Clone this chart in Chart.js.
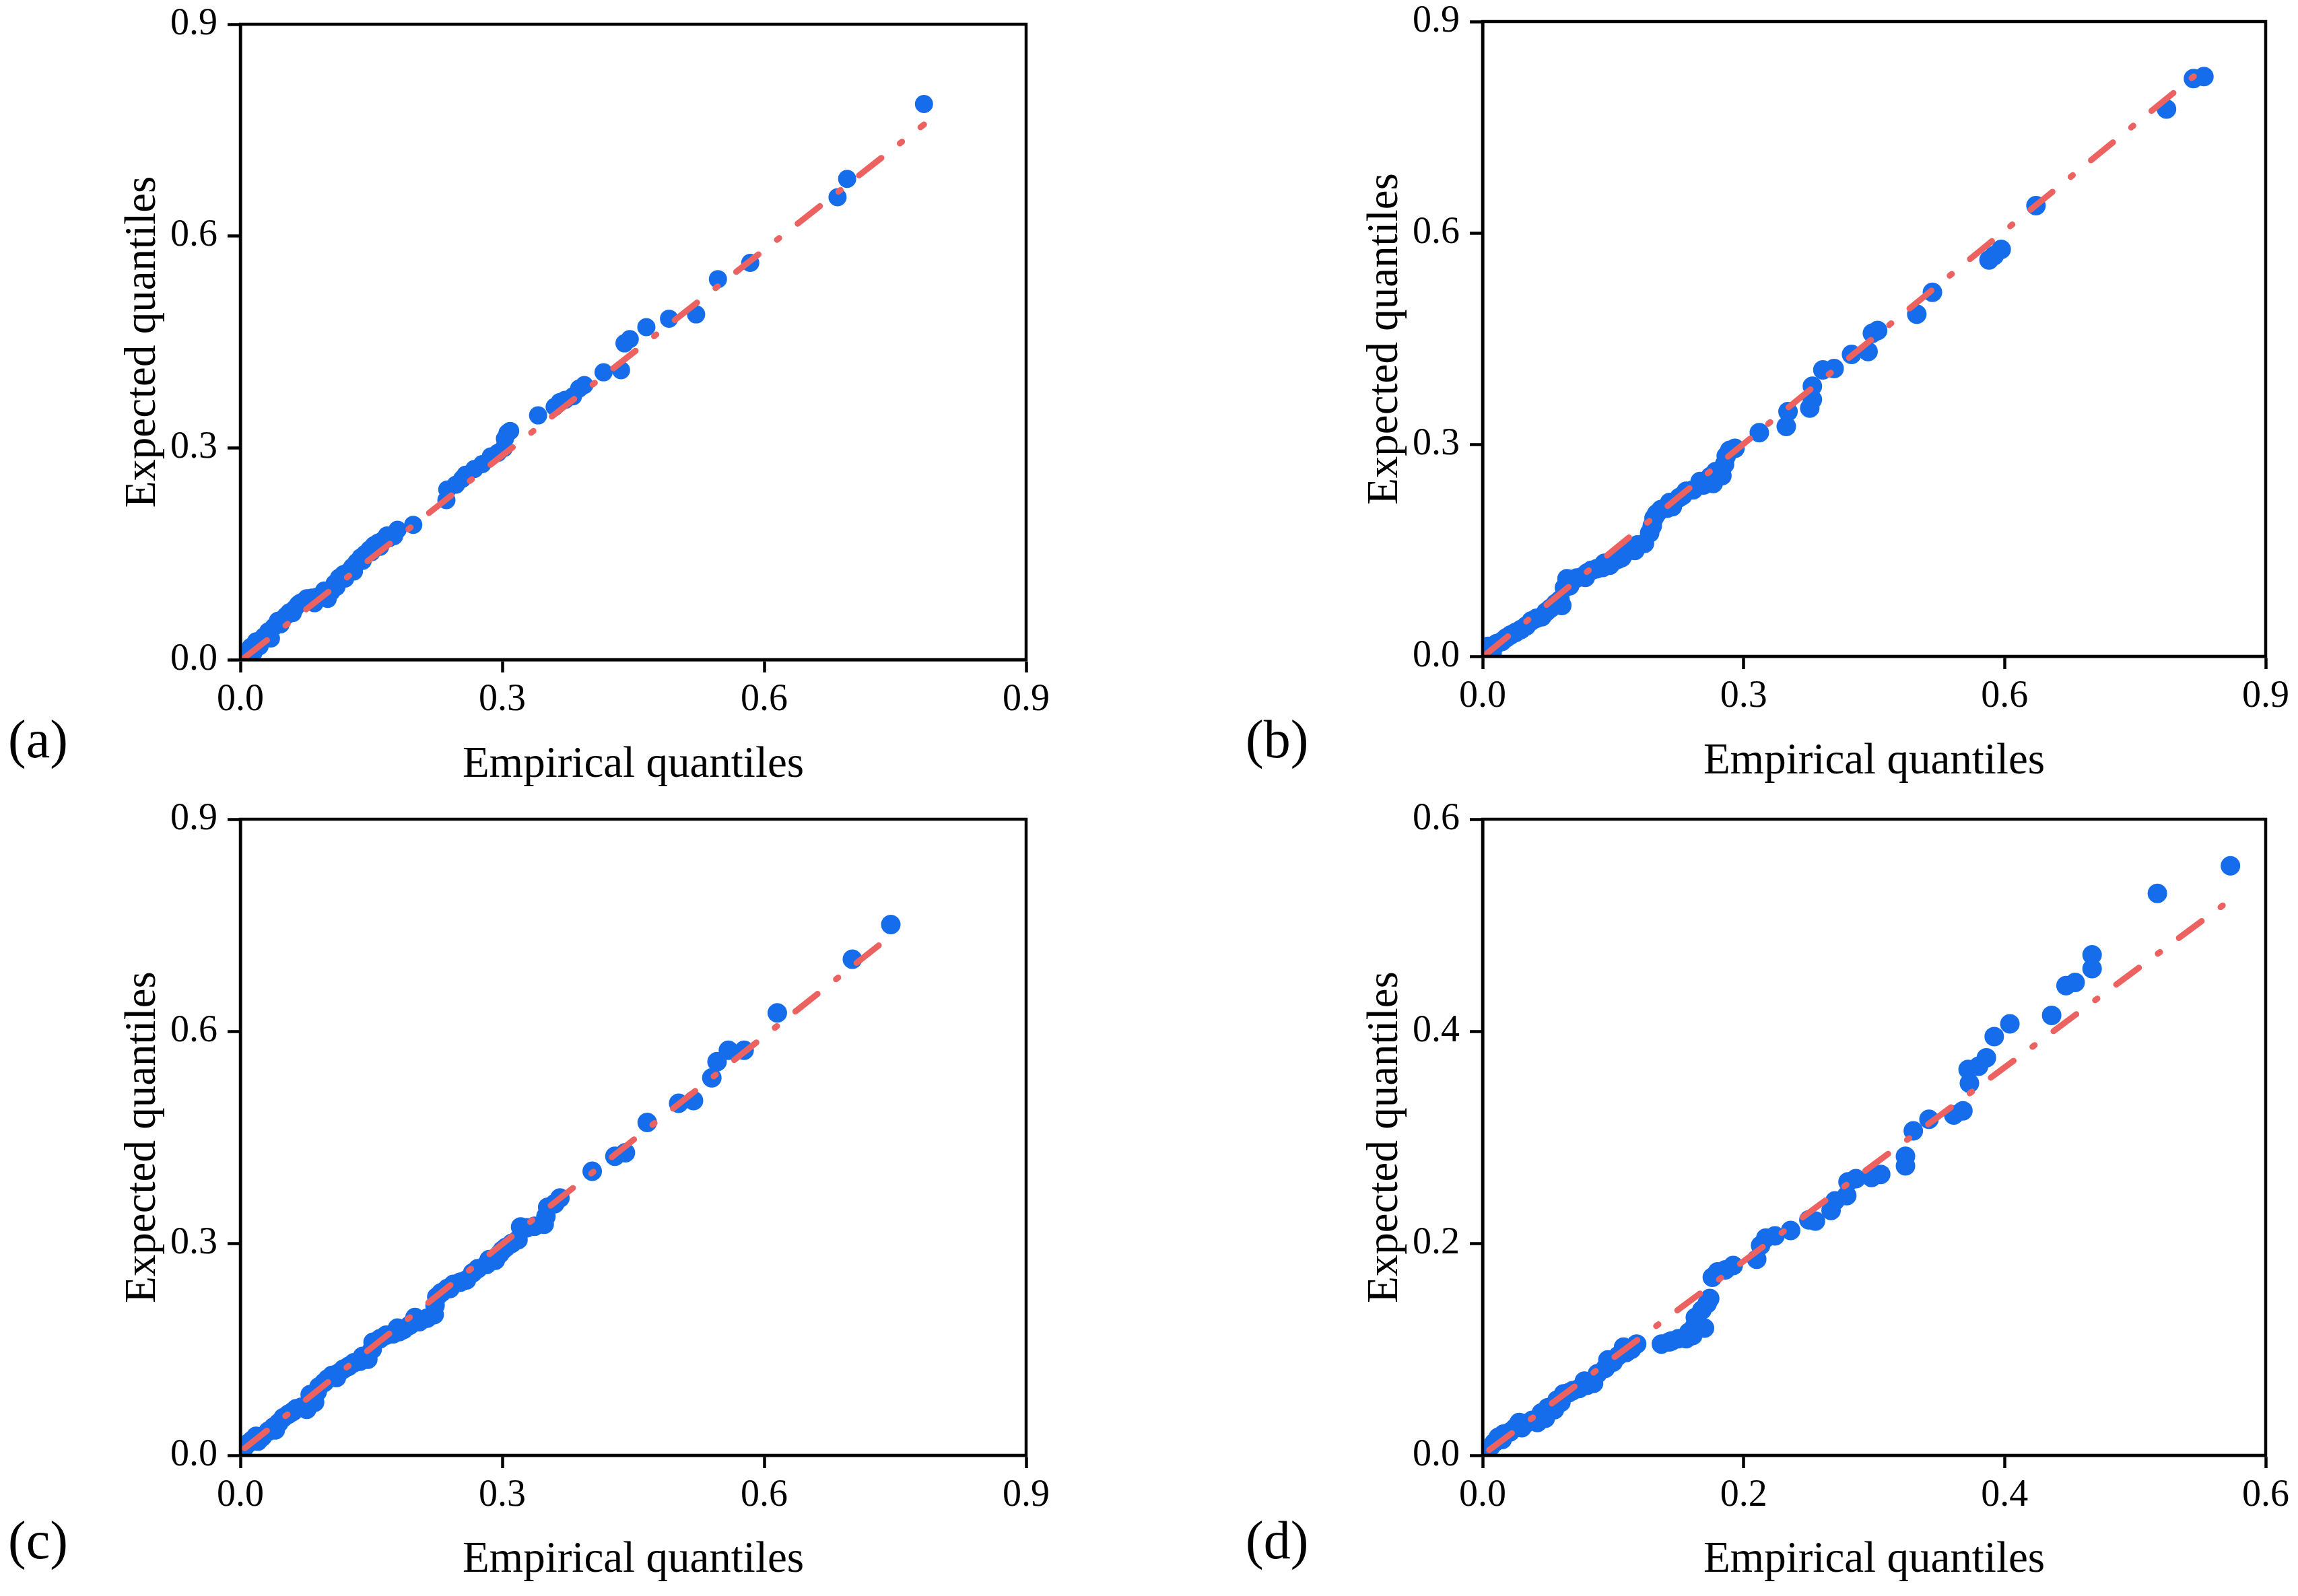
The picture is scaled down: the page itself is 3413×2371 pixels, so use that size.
<!DOCTYPE html>
<html>
<head>
<meta charset="utf-8">
<script src="https://cdn.jsdelivr.net/npm/chart.js@4.4.0/dist/chart.umd.min.js"></script>
<style>
  body { margin: 0; background: #fff; }
  #page { position: relative; width: 3413px; height: 2371px; background: #fff; overflow: hidden; }
  canvas { position: absolute; }
  .tag { position: absolute; font-family: "Liberation Serif", "Times New Roman", serif; font-size: 80px; line-height: 1; color: #000; }
</style>
</head>
<body>
<div id="page">
  <canvas id="cA" width="1706" height="1190" style="left:0px;top:0px"></canvas>
  <canvas id="cB" width="1707" height="1190" style="left:1706px;top:0px"></canvas>
  <canvas id="cC" width="1706" height="1181" style="left:0px;top:1190px"></canvas>
  <canvas id="cD" width="1707" height="1181" style="left:1706px;top:1190px"></canvas>
  <div class="tag" style="left:12px;top:1058px">(a)</div>
  <div class="tag" style="left:1850px;top:1058px">(b)</div>
  <div class="tag" style="left:12px;top:2248px">(c)</div>
  <div class="tag" style="left:1850px;top:2248px">(d)</div>
</div>
<script>
// ---- data ----
const empA = [0.004,0.008,0.012,0.015,0.018,0.022,0.027,0.032,0.035,0.038,0.043,0.046,0.048,0.052,0.056,0.060,0.062,0.066,0.068,0.071,0.076,0.078,0.082,0.085,0.088,0.090,0.094,0.096,0.100,0.104,0.108,0.110,0.113,0.118,0.120,0.123,0.128,0.130,0.133,0.138,0.140,0.143,0.148,0.150,0.153,0.158,0.160,0.164,0.168,0.170,0.176,0.180,0.198,0.236,0.237,0.247,0.254,0.258,0.268,0.277,0.287,0.295,0.302,0.303,0.306,0.309,0.341,0.360,0.366,0.372,0.381,0.388,0.394,0.416,0.436,0.440,0.446,0.465,0.491,0.522,0.547,0.584,0.684,0.695,0.783];
const expA = [0.006,0.012,0.018,0.010,0.026,0.019,0.033,0.040,0.030,0.046,0.055,0.050,0.057,0.062,0.067,0.066,0.072,0.078,0.080,0.082,0.087,0.084,0.088,0.080,0.089,0.090,0.092,0.098,0.086,0.096,0.108,0.103,0.116,0.121,0.115,0.124,0.131,0.125,0.138,0.145,0.140,0.150,0.156,0.152,0.162,0.166,0.160,0.170,0.176,0.172,0.175,0.184,0.191,0.226,0.241,0.248,0.256,0.262,0.270,0.277,0.288,0.293,0.300,0.313,0.321,0.324,0.346,0.358,0.365,0.368,0.373,0.384,0.389,0.407,0.410,0.448,0.454,0.471,0.483,0.489,0.539,0.562,0.655,0.681,0.787];
const fitA = [[0.005, 0.003], [0.783, 0.758]];

const empB = [0.003,0.006,0.011,0.016,0.022,0.027,0.032,0.038,0.044,0.050,0.056,0.062,0.068,0.073,0.078,0.084,0.089,0.091,0.094,0.097,0.100,0.102,0.108,0.115,0.118,0.120,0.125,0.131,0.138,0.140,0.146,0.151,0.156,0.160,0.163,0.171,0.175,0.178,0.186,0.192,0.195,0.197,0.200,0.205,0.212,0.215,0.218,0.226,0.230,0.234,0.242,0.250,0.254,0.262,0.265,0.268,0.275,0.278,0.280,0.284,0.290,0.318,0.349,0.351,0.376,0.379,0.379,0.391,0.404,0.424,0.443,0.448,0.454,0.499,0.517,0.582,0.588,0.596,0.636,0.786,0.817,0.829];
const expB = [0.005,0.014,0.006,0.018,0.021,0.026,0.030,0.034,0.038,0.043,0.050,0.054,0.056,0.063,0.068,0.075,0.080,0.072,0.097,0.110,0.100,0.107,0.111,0.113,0.112,0.118,0.122,0.124,0.126,0.132,0.129,0.135,0.138,0.140,0.146,0.151,0.150,0.158,0.160,0.175,0.185,0.196,0.202,0.208,0.210,0.218,0.212,0.225,0.228,0.234,0.236,0.248,0.243,0.255,0.245,0.262,0.256,0.272,0.284,0.292,0.295,0.317,0.326,0.347,0.352,0.364,0.383,0.406,0.408,0.428,0.432,0.458,0.462,0.485,0.516,0.562,0.568,0.577,0.639,0.776,0.819,0.822];
const fitB = [[0.004, 0.003], [0.829, 0.834]];

const empC = [0.004,0.008,0.013,0.018,0.020,0.025,0.032,0.038,0.040,0.044,0.049,0.055,0.060,0.064,0.070,0.076,0.080,0.082,0.085,0.088,0.090,0.096,0.100,0.105,0.110,0.112,0.118,0.124,0.130,0.137,0.140,0.146,0.151,0.152,0.160,0.167,0.175,0.180,0.182,0.187,0.194,0.200,0.205,0.214,0.222,0.223,0.225,0.230,0.237,0.240,0.244,0.252,0.259,0.266,0.272,0.282,0.285,0.292,0.297,0.300,0.304,0.311,0.318,0.321,0.328,0.337,0.348,0.350,0.352,0.360,0.366,0.403,0.429,0.441,0.466,0.502,0.519,0.540,0.546,0.559,0.577,0.615,0.701,0.745];
const expC = [0.010,0.016,0.021,0.027,0.020,0.026,0.034,0.040,0.036,0.046,0.053,0.058,0.062,0.066,0.068,0.065,0.086,0.078,0.075,0.090,0.097,0.103,0.108,0.113,0.110,0.116,0.122,0.126,0.131,0.133,0.140,0.136,0.150,0.160,0.165,0.170,0.172,0.180,0.175,0.178,0.184,0.195,0.189,0.194,0.199,0.212,0.224,0.230,0.236,0.236,0.242,0.245,0.248,0.258,0.264,0.270,0.277,0.276,0.285,0.290,0.294,0.300,0.305,0.323,0.322,0.324,0.327,0.338,0.351,0.356,0.364,0.402,0.423,0.428,0.471,0.498,0.502,0.534,0.557,0.573,0.573,0.626,0.702,0.751];
const fitC = [[0.005, 0.010], [0.745, 0.735]];

const empD = [0.003,0.006,0.009,0.012,0.015,0.016,0.021,0.025,0.028,0.030,0.033,0.038,0.042,0.045,0.048,0.050,0.055,0.057,0.060,0.062,0.066,0.069,0.074,0.078,0.080,0.085,0.088,0.094,0.096,0.100,0.104,0.108,0.110,0.114,0.118,0.137,0.143,0.145,0.150,0.156,0.158,0.161,0.162,0.163,0.168,0.170,0.172,0.174,0.176,0.180,0.186,0.192,0.210,0.213,0.217,0.224,0.236,0.250,0.255,0.267,0.270,0.279,0.280,0.286,0.298,0.305,0.324,0.324,0.330,0.342,0.361,0.368,0.373,0.372,0.380,0.386,0.392,0.404,0.436,0.447,0.454,0.467,0.467,0.517,0.573];
const expD = [0.004,0.008,0.012,0.017,0.015,0.020,0.022,0.026,0.031,0.026,0.030,0.033,0.031,0.040,0.035,0.045,0.043,0.052,0.050,0.058,0.059,0.061,0.063,0.070,0.066,0.068,0.077,0.082,0.090,0.088,0.094,0.102,0.097,0.100,0.105,0.105,0.107,0.108,0.110,0.110,0.116,0.113,0.121,0.130,0.137,0.120,0.143,0.148,0.168,0.173,0.175,0.179,0.185,0.198,0.205,0.207,0.212,0.222,0.221,0.231,0.240,0.245,0.258,0.261,0.262,0.265,0.273,0.282,0.306,0.317,0.321,0.325,0.351,0.364,0.367,0.375,0.395,0.407,0.415,0.443,0.446,0.459,0.472,0.530,0.556];
const fitD = [[0.005, 0.005], [0.573, 0.524]];

const axisMaxes = [0.9, 0.9, 0.9, 0.6];
const axisSteps = [0.3, 0.3, 0.3, 0.2];
const xTitle = 'Empirical quantiles';
const yTitle = 'Expected quantiles';

const BLUE = '#166DEC';
const RED = '#EB6261';
const FONT = '"Liberation Serif", "Times New Roman", serif';

// draws the closed box round the plot area
const framePlugin = {
  id: 'frame',
  afterDraw(chart) {
    const a = chart.chartArea, ctx = chart.ctx;
    ctx.save();
    ctx.strokeStyle = '#000';
    ctx.lineWidth = 4.5;
    ctx.strokeRect(a.left, a.top, a.right - a.left, a.bottom - a.top);
    ctx.restore();
  }
};

function toPts(xs, ys) {
  return xs.map((x, i) => ({ x: x, y: ys[i] }));
}

function panel(id, xs, ys, fit, idx, box) {
  const cv = document.getElementById(id);
  const W = cv.width, H = cv.height;
  const tickFont = { family: FONT, size: 56 };
  const titleFont = { family: FONT, size: 65 };
  return new Chart(cv, {
    type: 'scatter',
    data: {
      datasets: [
        {
          data: fit.map(p => ({ x: p[0], y: p[1] })),
          showLine: true,
          pointRadius: 0,
          borderColor: RED,
          borderWidth: 9,
          borderDash: [42, 35, 4, 35],
          borderCapStyle: 'round',
          fill: false
        },
        {
          data: toPts(xs, ys),
          pointRadius: box.r,
          pointHoverRadius: box.r,
          backgroundColor: BLUE,
          borderWidth: 0
        }
      ]
    },
    options: {
      responsive: false,
      animation: false,
      devicePixelRatio: 1,
      events: [],
      layout: { padding: { left: 0, top: box.top, right: W - box.right, bottom: 0 } },
      plugins: { legend: { display: false }, tooltip: { enabled: false } },
      scales: {
        x: {
          type: 'linear',
          min: 0,
          max: axisMaxes[idx],
          ticks: {
            stepSize: axisSteps[idx],
            font: tickFont,
            color: '#000',
            padding: 8,
            maxRotation: 0,
            callback: v => v.toFixed(1)
          },
          grid: { drawOnChartArea: false, tickLength: 19, tickWidth: 4.5, tickColor: '#000' },
          border: { width: 4.5, color: '#000' },
          title: { display: true, text: xTitle, font: titleFont, color: '#000', padding: { top: 0, bottom: box.xPad } },
          afterFit: s => { s.height = H - box.bottom; s.paddingLeft = 0; s.paddingRight = 0; }
        },
        y: {
          type: 'linear',
          min: 0,
          max: axisMaxes[idx],
          ticks: {
            stepSize: axisSteps[idx],
            font: tickFont,
            color: '#000',
            padding: 15,
            callback: v => v.toFixed(1)
          },
          grid: { drawOnChartArea: false, tickLength: 19, tickWidth: 4.5, tickColor: '#000' },
          border: { width: 4.5, color: '#000' },
          title: { display: true, text: yTitle, font: titleFont, color: '#000', padding: { top: box.yPad, bottom: 0 } },
          afterFit: s => { s.width = box.left; s.paddingTop = 0; s.paddingBottom = 0; }
        }
      }
    },
    plugins: [framePlugin]
  });
}

panel('cA', empA, expA, fitA, 0, { left: 357, right: 1524, top: 36, bottom: 980, xPad: 14, yPad: 174, r: 13.5 });
panel('cB', empB, expB, fitB, 1, { left: 496, right: 1659, top: 32, bottom: 975, xPad: 19, yPad: 313, r: 14.5 });
panel('cC', empC, expC, fitC, 2, { left: 357, right: 1524, top: 27, bottom: 972, xPad: 14, yPad: 174, r: 14.5 });
panel('cD', empD, expD, fitD, 3, { left: 496, right: 1659, top: 27, bottom: 972, xPad: 14, yPad: 313, r: 14.5 });
</script>
</body>
</html>
